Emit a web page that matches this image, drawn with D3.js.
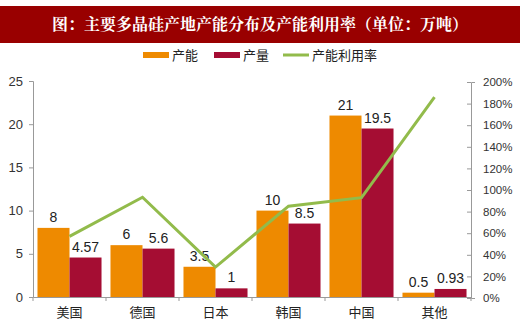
<!DOCTYPE html>
<html><head><meta charset="utf-8">
<script src="https://cdn.jsdelivr.net/npm/d3@7"></script>
<style>body{margin:0;background:#fff}svg{display:block}</style>
</head><body>
<script>
const title = "图：主要多晶硅产地产能分布及产能利用率（单位：万吨）";
const categories = ["美国","德国","日本","韩国","中国","其他"];
const capacity = [8, 6, 3.5, 10, 21, 0.5];
const output = [4.57, 5.6, 1, 8.5, 19.5, 0.93];
const capLabels = ["8","6","3.5","10","21","0.5"];
const outLabels = ["4.57","5.6","1","8.5","19.5","0.93"];
const utilization = [0.571, 0.933, 0.286, 0.85, 0.929, 1.86];
const leftTicks = [0,5,10,15,20,25];
const rightTicks = [0,0.2,0.4,0.6,0.8,1.0,1.2,1.4,1.6,1.8,2.0];
const seriesNames = ["产能","产量","产能利用率"];

const W=520,H=325;
const C_ORANGE="#EE8A00", C_RED="#A50D33", C_GREEN="#92BB4B", C_TITLE="#990000";
const svg=d3.select("body").append("svg").attr("width",W).attr("height",H);
const font="'Liberation Sans', Arial, sans-serif";
const cjk="'Noto Sans CJK SC', sans-serif";

svg.append("rect").attr("x",0).attr("y",6).attr("width",W).attr("height",37).attr("fill",C_TITLE);
svg.append("text").attr("x",W/2).attr("y",30).attr("text-anchor","middle")
  .attr("fill","#fff").attr("font-family","'Noto Serif CJK SC','Noto Sans CJK SC',serif")
  .attr("font-weight","bold").attr("font-size",16).text(title);

// legend
const lg=svg.append("g").attr("font-family",cjk).attr("font-size",13).attr("fill","#222");
lg.append("rect").attr("x",143).attr("y",52).attr("width",26).attr("height",6).attr("fill",C_ORANGE);
lg.append("text").attr("x",172).attr("y",60).text(seriesNames[0]);
lg.append("rect").attr("x",214).attr("y",52).attr("width",26).attr("height",6).attr("fill",C_RED);
lg.append("text").attr("x",243).attr("y",60).text(seriesNames[1]);
lg.append("line").attr("x1",283).attr("x2",309).attr("y1",55).attr("y2",55).attr("stroke",C_GREEN).attr("stroke-width",3);
lg.append("text").attr("x",312).attr("y",60).text(seriesNames[2]);

const x0=33,x1=471,yb=297,yt=81;
const x=d3.scaleBand().domain(categories).range([x0,x1]).paddingInner(0).paddingOuter(0);
const xs=d3.scaleBand().domain([0,1]).range([0,x.bandwidth()]).paddingInner(0).paddingOuter(0.14);
const y=d3.scaleLinear().domain([0,25]).range([yb,yt]);
const y2=d3.scaleLinear().domain([0,2]).range([yb+1,yt+1]);

// left axis
const la=svg.append("g").attr("transform",`translate(${x0},0)`)
  .call(d3.axisLeft(y).tickValues(leftTicks).tickSize(4).tickPadding(6));
la.select(".domain").attr("stroke","#999");
la.selectAll(".tick line").attr("stroke","#999");
la.selectAll("text").attr("font-family",font).attr("font-size",13).attr("fill","#333");

// right axis
const ra=svg.append("g").attr("transform",`translate(${x1},0)`)
  .call(d3.axisRight(y2).tickValues(rightTicks).tickSize(4).tickPadding(8).tickFormat(d3.format(".0%")));
ra.select(".domain").attr("stroke","#999");
ra.selectAll(".tick line").attr("stroke","#999").attr("x1",-4).attr("x2",0);
ra.selectAll("text").attr("font-family",font).attr("font-size",11.5).attr("fill","#333");

// bars
const g=svg.append("g");
categories.forEach((c,i)=>{
  const bx=x(c);
  g.append("rect").attr("x",bx+xs(0)).attr("y",y(capacity[i])).attr("width",xs.bandwidth())
    .attr("height",yb-y(capacity[i])).attr("fill",C_ORANGE);
  g.append("rect").attr("x",bx+xs(1)).attr("y",y(output[i])).attr("width",xs.bandwidth())
    .attr("height",yb-y(output[i])).attr("fill",C_RED);
  g.append("text").attr("x",bx+xs(0)+xs.bandwidth()/2).attr("y",y(capacity[i])-6)
    .attr("text-anchor","middle").attr("font-family",font).attr("font-size",14).attr("fill","#222").text(capLabels[i]);
  g.append("text").attr("x",bx+xs(1)+xs.bandwidth()/2).attr("y",y(output[i])-6)
    .attr("text-anchor","middle").attr("font-family",font).attr("font-size",14).attr("fill","#222").text(outLabels[i]);
});

// x axis
const xa=svg.append("g").attr("transform",`translate(0,${yb})`)
  .call(d3.axisBottom(x).tickSize(0).tickPadding(11));
xa.select(".domain").attr("stroke","#999");
xa.selectAll("text").attr("font-family",cjk).attr("font-size",13).attr("fill","#222");
categories.concat([null]).forEach((c,i)=>{
  const tx=x0+i*x.step();
  xa.append("line").attr("x1",tx).attr("x2",tx).attr("y1",0).attr("y2",4).attr("stroke","#999");
});

// line
const line=d3.line().x((d,i)=>x(categories[i])+x.bandwidth()/2).y(d=>y2(d));
svg.append("path").datum(utilization).attr("d",line).attr("fill","none")
  .attr("stroke",C_GREEN).attr("stroke-width",3).attr("stroke-linejoin","miter");
</script>
</body></html>
